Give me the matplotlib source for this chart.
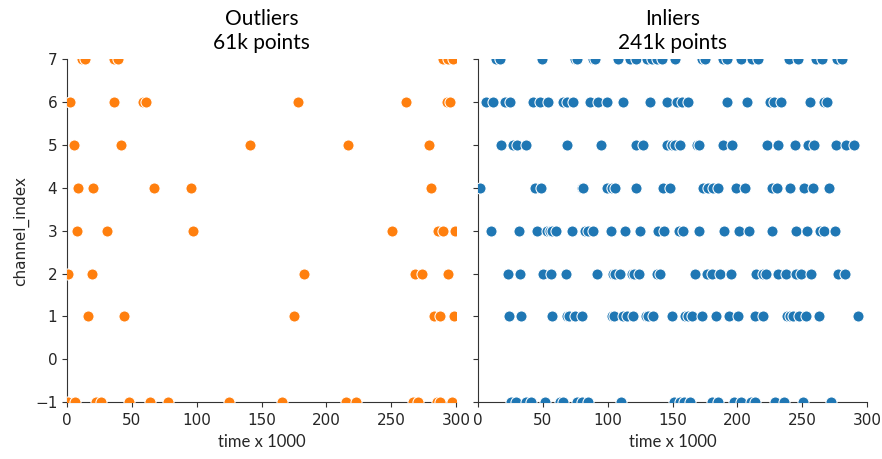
import matplotlib
matplotlib.use("Agg")
import matplotlib.pyplot as plt

# outlier points (time x 1000, channel_index)
out_time = [
    11.5, 14, 36, 39, 290, 294, 298,
    2, 36, 58.5, 61, 178.5, 261.5, 293, 295.5,
    5, 42, 141, 217, 279.5,
    8.7, 20, 67, 96, 281,
    7.7, 31, 97, 251, 286, 290, 299,
    1, 19, 182.5, 268, 273.5, 294,
    16, 44, 175, 283, 288, 298.5,
    1, 6.5, 22, 26, 48, 64, 78, 125, 166, 215, 223, 267, 271, 285, 288, 297,
]
out_chan = (
    [7] * 7 + [6] * 8 + [5] * 5 + [4] * 5 + [3] * 7 + [2] * 6 + [1] * 6 + [-1] * 16
)

in_time = [
    # channel 7
    13.6, 17.3, 49.7, 74.7, 76, 88.8, 90, 108, 117, 122, 130, 133.9, 137.7, 141.6,
    152, 172.5, 175, 189, 192, 202.9, 211, 216, 239.5, 246.5, 261, 265, 276.8, 280.7,
    # channel 6
    6.4, 11.6, 20.6, 24.5, 42.5, 47.6, 54, 65.7, 68.3, 73.4, 86.3, 92.7, 99.1, 111.5,
    133, 146, 153.2, 157, 162.2, 191.8, 207.3, 225.3, 227.9, 233.6, 256.2, 266.5, 269.1,
    # channel 5
    18, 27, 30.1, 37.3, 68.8, 94.8, 121.8, 127.5, 146, 149.4, 151.9, 155.8, 169.2,
    170.7, 189.3, 196.2, 222.7, 231.2, 244.1, 254.2, 258.8, 276, 284, 290.2,
    # channel 4
    1.8, 43.8, 48.9, 79.8, 81.1, 99.1, 103, 105.6, 121.5, 143, 148, 173.8, 177.7,
    181.6, 185.4, 199.1, 206, 226.6, 230.5, 240.8, 251.1, 258, 270.9,
    # channel 3
    10.3, 31.7, 45.6, 53.3, 55.4, 57.4, 60.5, 72.6, 82.4, 85, 88.3, 102.5, 113.3,
    124.9, 139, 143.7, 155, 158.4, 170.7, 190, 201.1, 209.3, 226.6, 245.2, 253.7, 264,
    267, 275.5,
    # channel 2
    23.2, 32.7, 50.2, 55.9, 67.7, 91.9, 103.8, 105.6, 109.4, 118.4, 120.2, 124.3,
    137.8, 140.3, 167.6, 176.9, 180.2, 186.7, 195.2, 214.2, 220.1, 221.9, 231.7,
    237.4, 245.3, 249.2, 256.9, 277.6, 283.2,
    # channel 1
    23.9, 33.5, 57.2, 68.8, 70, 74.7, 80.3, 103, 104.8, 112, 114.6, 119.7, 129.3,
    130.8, 134.7, 149.6, 159.7, 161.7, 165.3, 173.1, 183.9, 193.9, 200.4, 213.8,
    220.1, 238.2, 240.8, 243.3, 247.7, 252.8, 262.9, 293,
    # channel -1
    25.8, 29.1, 37.3, 41.2, 51.5, 63.1, 65.2, 76, 79.8, 85, 110.2, 151.4, 155.8,
    158.8, 163.5, 180.2, 185.4, 197.5, 202.6, 210.4, 213.8, 228.7, 235.6, 250.3, 272.5,
]
in_chan = (
    [7] * 28 + [6] * 27 + [5] * 24 + [4] * 23 + [3] * 28 + [2] * 29 + [1] * 32
    + [-1] * 25
)

titles = ["Outliers\n61k points", "Inliers\n241k points"]
colors = ["#ff7f0e", "#1f77b4"]
yticks = [-1, 0, 1, 2, 3, 4, 5, 6, 7]
xticks = [0, 50, 100, 150, 200, 250, 300]

fig = plt.figure(figsize=(8.82, 4.59), dpi=100)
ax1 = fig.add_axes([0.076, 0.124, 0.441, 0.747])
ax2 = fig.add_axes([0.542, 0.124, 0.441, 0.747], sharey=ax1)

for ax, t, c, title, col in [
    (ax1, out_time, out_chan, titles[0], colors[0]),
    (ax2, in_time, in_chan, titles[1], colors[1]),
]:
    ax.scatter(t, c, s=64, color=col, edgecolor="white", linewidth=0.75, zorder=3)
    ax.set_xlim(0, 300)
    ax.set_ylim(-1, 7)
    ax.set_xticks(xticks)
    ax.set_yticks(yticks)
    for side in ("top", "right"):
        ax.spines[side].set_visible(False)
    for side in ("left", "bottom"):
        ax.spines[side].set_color("#333333")
    ax.tick_params(labelsize=11, colors="#333333", labelcolor="#262626")
    ax.tick_params(axis="x", pad=4.5)
    ax.set_title(title, fontsize=15, family="Lato", pad=7, linespacing=1.25)
    ax.set_xlabel("time x 1000", fontsize=12, family="Lato", color="#262626")

ax1.set_ylabel("channel_index", fontsize=11, color="#262626")
ax2.tick_params(labelleft=False)

fig.savefig("out.png", dpi=100)
